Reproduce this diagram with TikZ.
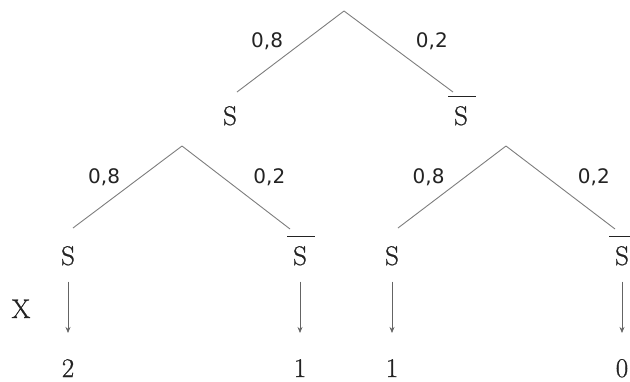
\documentclass[tikz,border=0pt]{standalone}
\usepackage{amsmath}
\usepackage{fontspec}
\newfontfamily\probfont{DejaVu Sans}
\newfontfamily\evfont{Latin Modern Roman}[FakeBold=0.8]
\usetikzlibrary{arrows.meta}
\definecolor{linegray}{RGB}{125,125,125}
\definecolor{txtgray}{RGB}{35,35,35}
\newcommand{\nS}{\leavevmode\rlap{\kern-6pt\raisebox{28.5pt}{\rule{28pt}{0.9pt}}}S}

\begin{document}
\begin{tikzpicture}[x=1pt, y=-1pt,
  branch/.style={draw=linegray, line width=0.9pt},
  prob/.style={font=\probfont\fontsize{20}{24}\selectfont, text=txtgray, inner sep=0pt},
  pl/.style={prob, pos=.5, anchor=south east, xshift=-7pt, yshift=1pt},
  pr/.style={prob, pos=.5, anchor=south west, xshift=17pt, yshift=1pt},
  ev/.style={font=\evfont\fontsize{27}{30}\selectfont, text=txtgray, anchor=base, inner sep=0pt},
  outc/.style={draw=linegray!80!black, line width=0.8pt, -{Stealth[length=6pt,width=5pt]}, shorten <=16pt, shorten >=26pt}]
\useasboundingbox (0,0) rectangle (630,381);
\coordinate (root) at (344,11);
\coordinate (e1) at (237,92);
\coordinate (e2) at (453,92);
\node[ev] (s) at (230,125) {S};
\node[ev] (ns) at (461,125) {\nS};
\coordinate (r1) at (182,146);
\coordinate (r2) at (506,146);
\coordinate (e11) at (73,228);
\coordinate (e12) at (290,229);
\coordinate (e21) at (398,228);
\coordinate (e22) at (615,229);
\node[ev] (ss) at (68,265) {S};
\node[ev] (sns) at (300,265) {\nS};
\node[ev] (nss) at (392,265) {S};
\node[ev] (nsns) at (622,265) {\nS};
\node[ev] (x) at (21,318) {X};
\node[ev] (n1) at (68,377) {2};
\node[ev] (n2) at (300,377) {1};
\node[ev] (n3) at (392,377) {1};
\node[ev] (n4) at (622,377) {0};
\draw[branch] (root) -- (e1) node[pl]{0,8};
\draw[branch] (root) -- (e2) node[pr]{0,2};
\draw[branch] (r1) -- (e11) node[pl]{0,8};
\draw[branch] (r1) -- (e12) node[pr]{0,2};
\draw[branch] (r2) -- (e21) node[pl]{0,8};
\draw[branch] (r2) -- (e22) node[pr]{0,2};
\draw[outc] (ss) -- (n1);
\draw[outc] (sns) -- (n2);
\draw[outc] (nss) -- (n3);
\draw[outc] (nsns) -- (n4);
\end{tikzpicture}
\end{document}
